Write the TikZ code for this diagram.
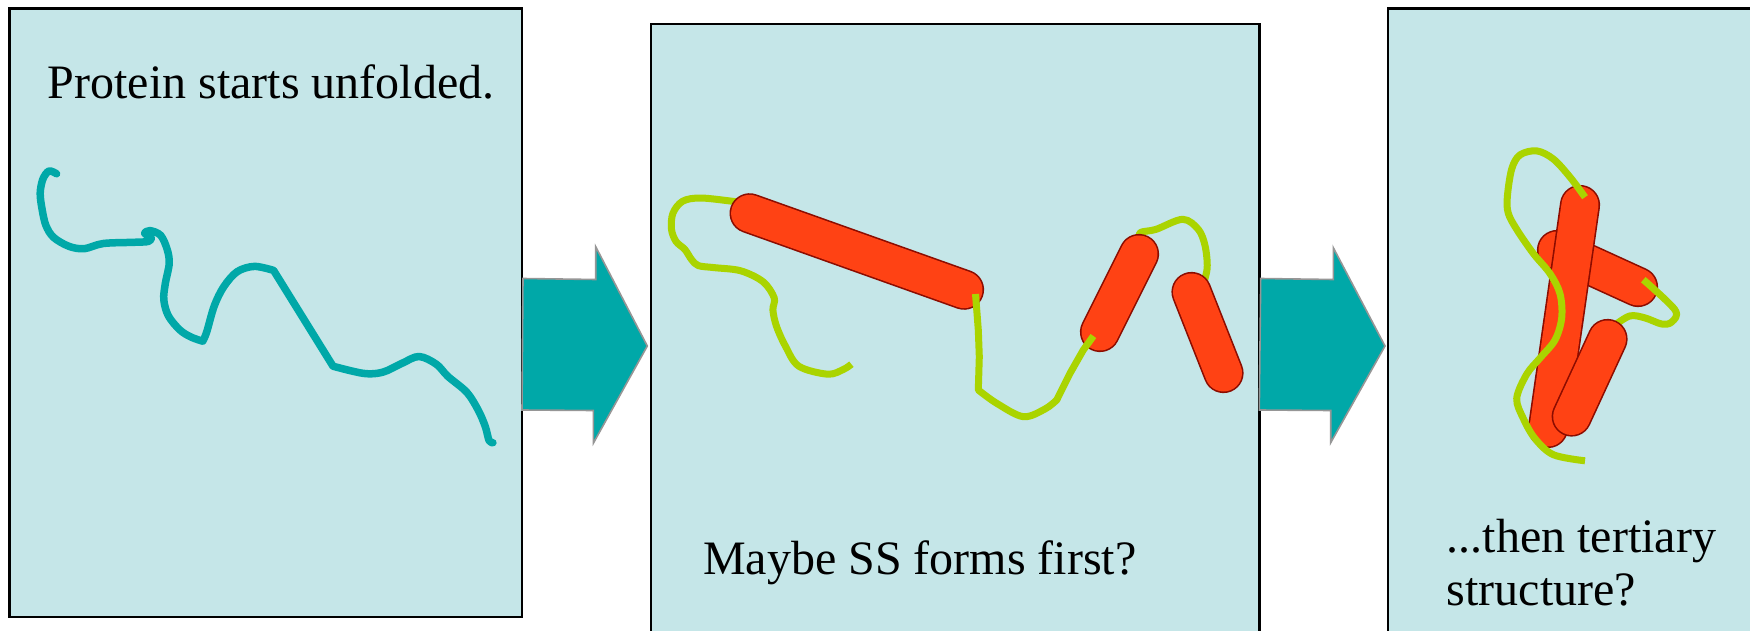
\documentclass[tikz,border=0pt]{standalone}
\usepackage{fontspec}
\setmainfont{Liberation Serif}
\definecolor{panelfill}{RGB}{197,230,232}
\definecolor{arrowteal}{RGB}{0,168,168}
\definecolor{arrowedge}{RGB}{150,150,150}
\definecolor{coilteal}{RGB}{0,168,168}
\definecolor{coilgreen}{RGB}{170,212,0}
\definecolor{helixred}{RGB}{255,66,20}
\definecolor{helixedge}{RGB}{140,12,0}
\begin{document}
\begin{tikzpicture}[x=1pt,y=-1pt,
  panel/.style={draw=black,line width=2.5pt,fill=panelfill},
  blockarrow/.style={draw=arrowedge,line width=1.6pt,fill=arrowteal,line join=miter},
  unfolded/.style={draw=coilteal,line width=7.5pt,line cap=round,line join=round},
  coil/.style={draw=coilgreen,line width=7pt,line join=round},
  helixrod/.style={draw=helixedge,line width=1.6pt,double=helixred,double distance=37pt,line cap=round},
  lbl/.style={inner sep=0pt,anchor=base west,font=\fontsize{48pt}{55pt}\selectfont}]
\clip (0,0) rectangle (1750,631);
\fill[white] (0,0) rectangle (1750,631);

% three panels
\draw[panel] (9.5,8.5) rectangle (522,617);
\draw[panel] (651,24) rectangle (1259.5,660);
\draw[panel] (1388,8.5) rectangle (1780,660);

% block arrows between the panels
\draw[blockarrow] (523,278.5) -- (595.7,279.5) -- (595.7,246.7) -- (647.3,346)
  -- (593.3,443.3) -- (593.3,410.5) -- (522,410) -- cycle;
\draw[blockarrow] (1260.7,278.5) -- (1333.3,279.5) -- (1333.3,247.7) -- (1385,346)
  -- (1330.7,442.7) -- (1330.7,410.5) -- (1259.3,410) -- cycle;

% unfolded chain
\draw[unfolded] plot[smooth,tension=0.55] coordinates {
  (56.6,173.8) (49,171) (42.9,179.1) (40.2,193.2) (42.1,209.3) (45.9,225.4)
  (53.6,237.4) (68.9,246.3) (84.2,248.7) (103.3,243.5) (134,242.3) (148.5,241.4)
  (151.2,237.4) (144.7,233.4) (150,230.6) (160.7,235.4) (167.2,249.5) (169.2,263.6)
  (165.3,283.7) (163.8,299.8) (168.4,315.9) (179.9,330) (191.3,337.2) (202.8,341.2)}
  -- plot[smooth,tension=0.55] coordinates {
  (202.8,341.2) (206.7,332) (214.3,305.8) (223.9,286.5) (237.3,271.6) (254.5,266.4) (273.6,270.4)}
  -- plot[smooth,tension=0.55] coordinates {
  (333,366.2) (363.6,373.4) (382.7,372.2) (401.8,363.4) (419,356.5) (436.3,364.2)
  (447.8,376.3) (466.9,392.4) (478.4,410.5) (485.3,426.6) (489.1,440.6) (492.9,442.7)};

% secondary structure: loops behind the rods
\draw[coil] plot[smooth,tension=0.55] coordinates {
  (745,203) (731.8,201.2) (700.5,198) (682.7,201.2) (672.9,213.3) (671.5,229.4)
  (676,241.4) (684.9,249.5) (691.6,259.6) (698.3,265.6) (713.9,267.6) (740.7,270.8)
  (763,281.7) (774.2,297.8) (772.9,309.9) (776.4,326) (785.4,346.1) (798.8,366.2)
  (827.8,374.2) (843.4,369.4) (851.4,364.2)};
\draw[coil] plot[smooth,tension=0.55] coordinates {
  (1140,240) (1140.3,232.6) (1155.9,229.4) (1182.7,219.3) (1198.3,229.4)
  (1205,245.5) (1207.2,267.6) (1203,285)};
% secondary structure: rods
\draw[helixrod] (749.6,213.3) -- (964,289.7);
\draw[helixrod] (1100,332) -- (1139,254);
\draw[helixrod] (1191.5,292) -- (1223.5,373);
% loop lying over the rods
\draw[coil] (975.5,294) -- (978.3,330) -- (979.3,356.7) -- (978.3,390)
  -- plot[smooth,tension=0.55] coordinates {
  (978.3,390) (996.7,403.3) (1023.3,416.7) (1045,409) (1056.7,400)}
  -- (1070,373.3) -- (1083.3,350) -- (1093.4,336);

% tertiary structure
\draw[helixrod] (1557,250) -- (1638,287);
\draw[helixrod] (1580,205) -- (1548,428);
\draw[coil] plot[smooth,tension=0.55] coordinates {
  (1643.3,279.7) (1675,309.9) (1671.7,322) (1661.7,324) (1645,317.9) (1630,315.9) (1615,325)};
\draw[helixrod] (1607.5,339) -- (1571.7,416.5);
\draw[coil] plot[smooth,tension=0.55] coordinates {
  (1585,197.2) (1570,177.1) (1553.3,159) (1536.7,150.9) (1520,154.9) (1511.7,169)
  (1507.3,197.2) (1508.3,213.3) (1516.7,229.4) (1533.3,253.5) (1550,273.6) (1560,293.8)
  (1561.7,317.9) (1555,340) (1540,358.1) (1526.7,374.2) (1516.7,398.4) (1523.3,418.5)
  (1535,438.6) (1553.3,454.7) (1585,460.8)};

% captions
\node[lbl] (cap1) at (47.5,98.5) {Protein starts unfolded.};
\node[lbl] (cap2) at (703,574) {Maybe SS forms first?};
\node[lbl] (cap3a) at (1446.5,552) {...then tertiary};
\node[lbl] (cap3b) at (1446.5,605) {structure?};
\end{tikzpicture}
\end{document}
